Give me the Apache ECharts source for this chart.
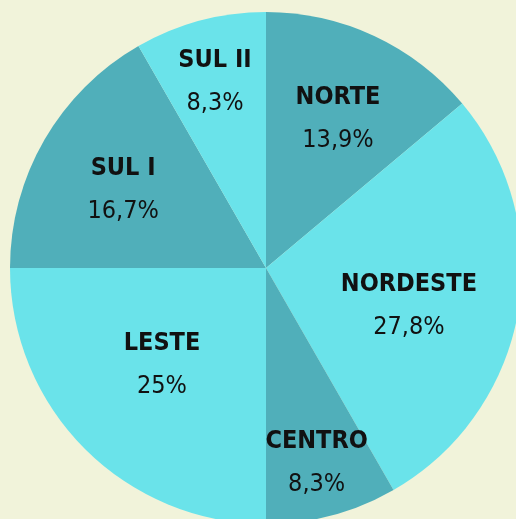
<!DOCTYPE html>
<html>
<head>
<meta charset="utf-8">
<script src="https://cdn.jsdelivr.net/npm/echarts@6/dist/echarts.min.js"></script>
<style>
html, body { margin: 0; padding: 0; background: #F1F3DA; }
#main { width: 516px; height: 519px; }
</style>
</head>
<body>
<div id="main"></div>
<script>
// regiões e percentuais
var regioes = ['NORTE', 'NORDESTE', 'CENTRO', 'LESTE', 'SUL I', 'SUL II'];
var valores = [13.9, 27.8, 8.3, 25, 16.7, 8.3];
var cores = ['#50AFBA', '#6AE3EA', '#50AFBA', '#6AE3EA', '#50AFBA', '#6AE3EA'];
// quanto empurrar cada rótulo para fora do meio do raio, e giro (graus, horário)
var afastamento = [1.30, 1.12, 1.50, 1.06, 1.26, 1.51];
var giro = [0, 3, 0, 3.5, 0, 0];

var cx = 266, cy = 268;
var fonte = '"DejaVu Sans Condensed", "Liberation Sans Narrow", Roboto, sans-serif';

var dados = regioes.map(function (nome, i) {
  return { name: nome, value: valores[i], itemStyle: { color: cores[i] } };
});

var myChart = echarts.init(document.getElementById('main'));

var option = {
  backgroundColor: '#F1F3DA',
  animation: false,
  series: [{
    type: 'pie',
    center: [cx, cy],
    radius: [0, 256],
    startAngle: 90,
    clockwise: true,
    avoidLabelOverlap: false,
    itemStyle: { borderWidth: 0 },
    label: {
      show: true,
      position: 'inside',
      formatter: function (p) {
        return '{n|' + p.name + '}\n{p|' + String(p.value).replace('.', ',') + '%}';
      },
      rich: {
        n: { fontFamily: fonte, fontWeight: 'bold', fontSize: 25, color: '#111', lineHeight: 43, align: 'center' },
        p: { fontFamily: fonte, fontWeight: 'normal', fontSize: 25, color: '#111', lineHeight: 43, align: 'center' }
      }
    },
    labelLine: { show: false },
    labelLayout: function (params) {
      var r = params.labelRect;
      var i = params.dataIndex;
      var k = afastamento[i];
      var a = giro[i] * Math.PI / 180;
      var lx = r.x + r.width / 2, ly = r.y + r.height / 2;
      var vx = (lx - cx) * k, vy = (ly - cy) * k;
      var nx = cx + vx * Math.cos(a) - vy * Math.sin(a);
      var ny = cy + vx * Math.sin(a) + vy * Math.cos(a) + 5;
      return { dx: nx - lx, dy: ny - ly };
    },
    data: dados
  }]
};

myChart.setOption(option);
window.onresize = function () {
  myChart.resize();
};
</script>
</body>
</html>
